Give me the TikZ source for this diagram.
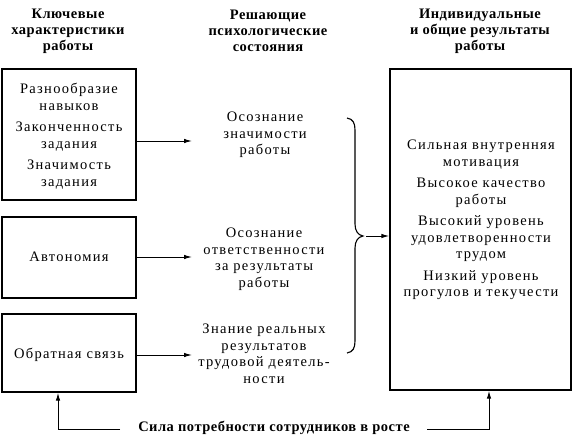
\documentclass[tikz,border=0pt]{standalone}
\usepackage{fontspec}
\setmainfont{Liberation Serif}[LetterSpace=9,BoldFeatures={LetterSpace=3.5}]
\usetikzlibrary{arrows.meta}
\begin{document}
\begin{tikzpicture}[x=1pt,y=-1pt,
  txt/.style={align=center,inner sep=0pt,font=\fontsize{14.5}{16.5}\selectfont},
  head/.style={align=center,inner sep=0pt,font=\fontsize{14.5}{16}\selectfont\bfseries},
  boxx/.style={draw,line width=1.4pt,inner sep=0pt},
  arr/.style={line width=1pt,-{Latex[length=8pt,width=4.5pt]}},
  ln/.style={line width=1pt}]
\useasboundingbox (0,0) rectangle (572,444);
% headers
\node[head] (h1) at (68,31) {Ключевые\\характеристики\\работы};
\node[head] (h2) at (268,31) {Решающие\\психологические\\состояния};
\node[head] (h3) at (480,31) {Индивидуальные\\и общие результаты\\работы};
% left boxes
\node[boxx,minimum width=134pt,minimum height=131pt] (b1) at (69,134.5) {};
\node[txt,font=\fontsize{14.5}{17}\selectfont] (t1) at (69,136.5) {Разнообразие\\навыков\\[4pt]Законченность\\задания\\[4pt]Значимость\\задания};
\node[boxx,minimum width=134pt,minimum height=81pt] (b2) at (69,257.5) {};
\node[txt] (t2) at (69,257) {Автономия};
\node[boxx,minimum width=134pt,minimum height=78pt] (b3) at (69,353) {};
\node[txt] (t3) at (69,355) {Обратная связь};
% middle
\node[txt] (m1) at (265,135) {Осознание\\значимости\\работы};
\node[txt] (m2) at (264,259) {Осознание\\ответственности\\за результаты\\работы};
\node[txt] (m3) at (264,354) {Знание реальных\\результатов\\трудовой деятель-\\ности};
% right box
\node[boxx,minimum width=181pt,minimum height=321pt] (r) at (480.5,229.5) {};
\node[txt] (rt) at (481,220) {Сильная внутренняя\\мотивация\\[5pt]Высокое качество\\работы\\[5pt]Высокий уровень\\удовлетворенности\\трудом\\[5pt]Низкий уровень\\прогулов и текучести};
% arrows from boxes
\coordinate (a1) at (192,141);
\coordinate (a2) at (192,257);
\coordinate (a3) at (192,355);
\draw[arr] (b1.east |- a1) -- (a1);
\draw[arr] (b2.east |- a2) -- (a2);
\draw[arr] (b3.east |- a3) -- (a3);
% brace
\coordinate (bt) at (347,118);
\coordinate (bb) at (347,353);
\coordinate (tip) at (363,236);
\draw[line width=1.1pt] (bt) .. controls (353,119) and (355,123) .. (355,130)
  -- (355,224) .. controls (355,231) and (358,235) .. (tip)
  .. controls (358,237) and (355,241) .. (355,248)
  -- (355,341) .. controls (355,348) and (353,352) .. (bb);
\draw[arr] ([xshift=3pt]tip) -- (r.west |- tip);
% bottom
\node[head] (bot) at (274,428) {Сила потребности сотрудников в росте};
\coordinate (l1) at (120,429);
\coordinate (l2) at (427,429);
\coordinate (x1) at (58,0);
\coordinate (x2) at (489,0);
\draw[arr] (l1) -| (x1 |- b3.south);
\draw[arr] (l2) -| (x2 |- r.south);
\end{tikzpicture}
\end{document}
